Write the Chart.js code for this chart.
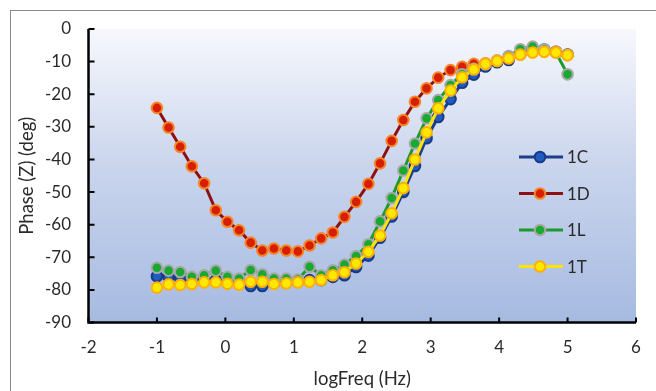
<!DOCTYPE html>
<html>
<head>
<meta charset="utf-8">
<script src="https://cdn.jsdelivr.net/npm/chart.js@4/dist/chart.umd.min.js"></script>
<style>
  html, body { margin: 0; padding: 0; background: #fff; }
  #wrap { width: 656px; height: 391px; position: relative; }
</style>
</head>
<body>
<div id="wrap"><canvas id="phase-chart" width="656" height="391"></canvas></div>
<script>
// log10 of frequency (Hz)
const logFreq = [-1, -0.83, -0.66, -0.49, -0.31, -0.14, 0.03, 0.2, 0.37, 0.54, 0.71, 0.89,
    1.06, 1.23, 1.4, 1.57, 1.74, 1.91, 2.09, 2.26, 2.43, 2.6, 2.77, 2.94,
    3.11, 3.29, 3.46, 3.63, 3.8, 3.97, 4.14, 4.31, 4.49, 4.66, 4.83, 5.0];

// phase angle (deg) for each sample
const phase1C = [-75.8, -76, -76.5, -76.3, -77, -77, -77.5, -77.5, -78.8, -78.8, -78, -77.8,
    -77.5, -77, -77, -76, -75.5, -73, -69.5, -64, -57.5, -50, -42, -33.5,
    -27, -21.5, -16.5, -14, -11.5, -10.2, -9.5, -7.5, -6, -6.3, -7, -7.8];
const phase1D = [-24.2, -30.2, -36.1, -42.1, -47.3, -55.6, -59.1, -61.7, -65.5, -67.9, -67.3, -67.9,
    -68.2, -66.4, -64.2, -62.4, -57.6, -53.0, -47.5, -41.2, -34.3, -27.9, -22.3, -18.2,
    -14.9, -12.6, -11.6, -10.7, -10.5, -9.7, -8.7, -7.8, -7.0, -6.8, -7.0, -8.0];
const phase1L = [-73.2, -74.1, -74.5, -76, -75.5, -74.1, -76, -76.5, -73.9, -75.2, -76.5, -76.5,
    -76.8, -72.9, -75.5, -74, -72.2, -69.6, -66.0, -59.0, -51.8, -43.4, -35.1, -27.4,
    -21.8, -17.2, -13.9, -12.2, -10.8, -9.7, -8.3, -6.2, -5.4, -6.3, -7.2, -13.9];
const phase1T = [-79.3, -78.3, -78.5, -78.2, -77.7, -77.7, -78.1, -78.4, -77.5, -77.5, -78.2, -78.0,
    -77.7, -77.5, -77.0, -75.5, -74.6, -71.9, -68.3, -63.3, -56.5, -48.8, -40.0, -31.7,
    -24.3, -18.9, -14.8, -12.4, -10.7, -9.8, -9.0, -7.8, -7.2, -7.0, -7.2, -8.0];

const seriesNames = ['1C', '1D', '1L', '1T'];
const xTicks = [-2, -1, 0, 1, 2, 3, 4, 5, 6];
const yTicks = [0, -10, -20, -30, -40, -50, -60, -70, -80, -90];

const FONT = 'Lato, "Open Sans", sans-serif';
const TEXT = '#2a2a2a';

function toPoints(ys) {
    return logFreq.map((x, i) => ({ x: x, y: ys[i] }));
}

const styles = [
    { line: '#1c3c8c', fill: '#1f5cc0', edge: '#1a3a88' },
    { line: '#8e1010', fill: '#d81e00', edge: '#f4862a' },
    { line: '#1c9a2c', fill: '#18aa30', edge: '#a8a8a8' },
    { line: '#ffe400', fill: '#ffe800', edge: '#ffb000' }
];

const datasets = [phase1C, phase1D, phase1L, phase1T].map((ys, i) => ({
    label: seriesNames[i],
    data: toPoints(ys),
    showLine: true,
    borderColor: styles[i].line,
    borderWidth: 3,
    pointRadius: 5.3,
    pointBorderWidth: 2,
    pointBackgroundColor: styles[i].fill,
    pointBorderColor: styles[i].edge,
    order: 4 - i, // later series on top, like the original
    clip: false
}));

// plot background gradient + outer frame
const backdrop = {
    id: 'backdrop',
    beforeDraw(chart) {
        const { ctx, chartArea: a } = chart;
        ctx.save();
        ctx.fillStyle = '#fff';
        ctx.fillRect(0, 0, chart.width, chart.height);
        ctx.strokeStyle = '#8a8a8a';
        ctx.lineWidth = 1;
        ctx.strokeRect(10.5, 10.5, chart.width + 20, chart.height + 20);
        const g = ctx.createLinearGradient(0, a.top, 0, a.bottom);
        g.addColorStop(0, '#f7f8fd');
        g.addColorStop(0.45, '#cbd6ed');
        g.addColorStop(1, '#a6bae1');
        ctx.fillStyle = g;
        ctx.fillRect(a.left, a.top, a.right - a.left, a.bottom - a.top);
        ctx.restore();
    }
};

// axis lines with inward tick marks
const axesLines = {
    id: 'axesLines',
    afterDatasetsDraw(chart) {
        const { ctx, chartArea: a, scales } = chart;
        ctx.save();
        ctx.strokeStyle = '#000';
        ctx.lineWidth = 2.5;
        ctx.beginPath();
        ctx.moveTo(a.left, a.top);
        ctx.lineTo(a.left, a.bottom);
        ctx.lineTo(a.right, a.bottom);
        ctx.stroke();
        ctx.lineWidth = 2;
        ctx.beginPath();
        xTicks.forEach(v => {
            const px = scales.x.getPixelForValue(v);
            ctx.moveTo(px, a.bottom);
            ctx.lineTo(px, a.bottom - 5);
        });
        yTicks.forEach(v => {
            const py = scales.y.getPixelForValue(v);
            ctx.moveTo(a.left, py);
            ctx.lineTo(a.left + 6, py);
        });
        ctx.stroke();
        ctx.restore();
    }
};

// legend inside the plot, line-marker-line symbols
const sideLegend = {
    id: 'sideLegend',
    afterDraw(chart) {
        const { ctx } = chart;
        ctx.save();
        ctx.font = '17px ' + FONT;
        ctx.textBaseline = 'middle';
        seriesNames.forEach((name, i) => {
            const y = 157 + i * 36.5;
            const s = styles[i];
            ctx.strokeStyle = s.line;
            ctx.lineWidth = 3;
            ctx.beginPath();
            ctx.moveTo(519, y);
            ctx.lineTo(563, y);
            ctx.stroke();
            ctx.beginPath();
            ctx.arc(540, y, 5.3, 0, Math.PI * 2);
            ctx.fillStyle = s.fill;
            ctx.fill();
            ctx.lineWidth = 2;
            ctx.strokeStyle = s.edge;
            ctx.stroke();
            ctx.fillStyle = TEXT;
            ctx.fillText(name, 567, y + 1);
        });
        ctx.restore();
    }
};

new Chart(document.getElementById('phase-chart'), {
    type: 'scatter',
    data: { datasets: datasets },
    plugins: [backdrop, axesLines, sideLegend],
    options: {
        responsive: false,
        animation: false,
        layout: { padding: { left: 0, right: 20, top: 29, bottom: 0 } },
        plugins: { legend: { display: false }, tooltip: { enabled: false } },
        scales: {
            x: {
                type: 'linear',
                min: -2, max: 6,
                afterBuildTicks: s => { s.ticks = xTicks.map(v => ({ value: v })); },
                afterFit: s => { s.height = 68.5; },
                grid: { display: false, drawTicks: false },
                border: { display: false },
                ticks: { padding: 15, color: TEXT, font: { family: FONT, size: 17 } },
                title: {
                    display: true, text: 'logFreq (Hz)', color: TEXT,
                    font: { family: FONT, size: 18.5 }, padding: { top: 0, bottom: 1 }
                }
            },
            y: {
                type: 'linear',
                min: -90, max: 0,
                afterBuildTicks: s => { s.ticks = yTicks.map(v => ({ value: v })); },
                afterFit: s => { s.width = 88.5; },
                grid: { display: false, drawTicks: false },
                border: { display: false },
                ticks: { padding: 17.5, color: TEXT, font: { family: FONT, size: 17 } },
                title: {
                    display: true, text: 'Phase (Z) (deg)', color: TEXT,
                    font: { family: FONT, size: 18.5 }, padding: { top: 16, bottom: 0 }
                }
            }
        }
    }
});
</script>
</body>
</html>
